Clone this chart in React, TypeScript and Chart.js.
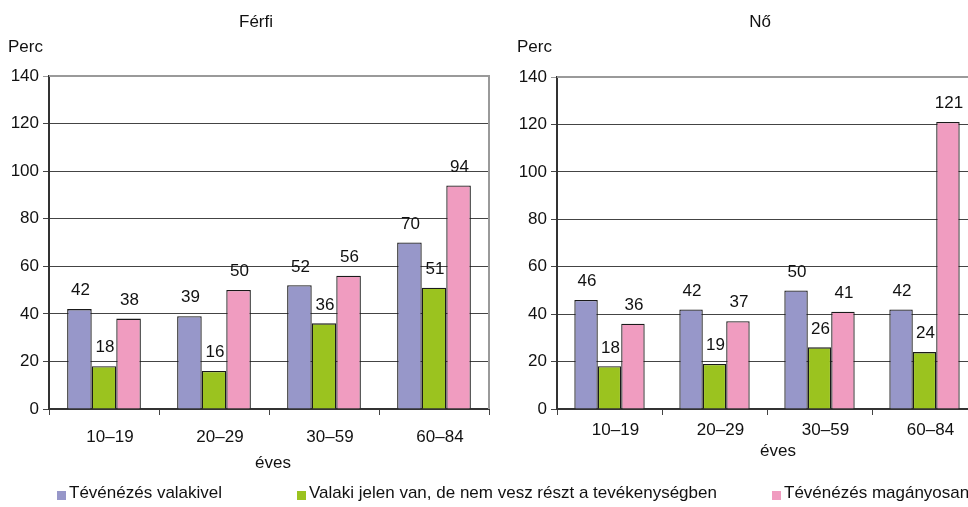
import React, { useEffect, useRef } from "react";
import { Chart, registerables } from "chart.js";

Chart.register(...registerables);

const categories = ["10–19", "20–29", "30–59", "60–84"];
const seriesNames = [
  "Tévénézés valakivel",
  "Valaki jelen van, de nem vesz részt a tevékenységben",
  "Tévénézés magányosan",
];
const seriesColors = ["#9797C9", "#9BC31F", "#F09CC0"];

const ferfiValakivel = [42, 39, 52, 70];
const ferfiJelen = [18, 16, 36, 51];
const ferfiMaganyosan = [38, 50, 56, 94];

const noValakivel = [46, 42, 50, 42];
const noJelen = [18, 19, 26, 24];
const noMaganyosan = [36, 37, 41, 121];

const yTicks = [0, 20, 40, 60, 80, 100, 120, 140];

const FONT = "'Liberation Sans', Arial, sans-serif";
const FS = 17;

const valueLabels = {
  id: "valueLabels",
  afterDatasetsDraw(chart: any) {
    const ctx = chart.ctx;
    ctx.save();
    ctx.font = `${FS}px ${FONT}`;
    ctx.fillStyle = "#111";
    ctx.textAlign = "center";
    ctx.textBaseline = "bottom";
    chart.data.datasets.forEach((ds: any, i: number) => {
      const meta = chart.getDatasetMeta(i);
      meta.data.forEach((bar: any, j: number) => {
        ctx.fillText(String(ds.data[j]), bar.x + 1, bar.y - 10);
      });
    });
    ctx.restore();
  },
};

const frame = {
  id: "frame",
  afterDatasetsDraw(chart: any) {
    const { ctx, chartArea } = chart;
    ctx.save();
    ctx.strokeStyle = "#9a9a9a";
    ctx.lineWidth = 2;
    ctx.beginPath();
    ctx.moveTo(chartArea.left, chartArea.top);
    ctx.lineTo(chartArea.right, chartArea.top);
    ctx.lineTo(chartArea.right, chartArea.bottom);
    ctx.stroke();
    ctx.restore();
  },
};

type PanelProps = {
  data: number[][];
  left: number;
  width: number;
  yAxisWidth: number;
  padTop: number;
  padRight: number;
  xAxisHeight: number;
  labelOffset: number;
  tickPadX: number;
};

function Panel(p: PanelProps) {
  const ref = useRef<HTMLCanvasElement>(null);
  useEffect(() => {
    if (!ref.current) return;
    const chart = new Chart(ref.current, {
      type: "bar",
      data: {
        labels: categories,
        datasets: p.data.map((d, i) => ({
          label: seriesNames[i],
          data: d,
          backgroundColor: seriesColors[i],
          borderColor: "#1a1a1a",
          borderWidth: 1.3,
          borderSkipped: "bottom",
          categoryPercentage: 0.67,
          barPercentage: 1.0,
        })),
      },
      options: {
        animation: false,
        responsive: false,
        maintainAspectRatio: false,
        layout: { padding: { top: p.padTop, right: p.padRight, left: 0, bottom: 0 } },
        plugins: { legend: { display: false }, tooltip: { enabled: false }, title: { display: false } },
        scales: {
          x: {
            grid: {
              display: true,
              drawOnChartArea: false,
              drawTicks: true,
              tickLength: 6,
              color: "#444",
              offset: true,
            },
            border: { display: true, color: "#333", width: 2 },
            ticks: {
              color: "#111",
              font: { family: FONT, size: FS },
              padding: p.tickPadX,
              labelOffset: p.labelOffset,
              maxRotation: 0,
              autoSkip: false,
            },
            afterFit: (s: any) => {
              s.height = p.xAxisHeight;
            },
          },
          y: {
            min: 0,
            max: 140,
            afterBuildTicks: (s: any) => {
              s.ticks = yTicks.map((v) => ({ value: v }));
            },
            grid: {
              color: (c: any) => (c.tick && c.tick.value === 140 ? "#9a9a9a" : "#444"),
              lineWidth: 1,
              tickLength: 6,
            },
            border: { display: true, color: "#333", width: 2 },
            ticks: {
              color: "#111",
              font: { family: FONT, size: FS },
              padding: 4,
            },
            afterFit: (s: any) => {
              s.width = p.yAxisWidth;
            },
          },
        },
      },
      plugins: [frame, valueLabels],
    });
    return () => chart.destroy();
  }, []);
  return (
    <canvas
      ref={ref}
      width={p.width}
      height={507}
      style={{ position: "absolute", left: p.left, top: 0, width: p.width, height: 507 }}
    />
  );
}

const txt = (s: string, x: number, y: number, center = false): React.ReactElement => (
  <div
    key={s + x}
    style={{
      position: "absolute",
      left: x,
      top: y,
      transform: center ? "translateX(-50%)" : undefined,
      fontFamily: FONT,
      fontSize: FS,
      color: "#111",
      whiteSpace: "nowrap",
      lineHeight: "20px",
    }}
  >
    {s}
  </div>
);

export default function App() {
  useEffect(() => {
    document.body.style.margin = "0";
  }, []);
  return (
    <div style={{ position: "relative", width: 968, height: 507, overflow: "hidden", background: "#fff" }}>
      <Panel
        data={[ferfiValakivel, ferfiJelen, ferfiMaganyosan]}
        left={0}
        width={492}
        yAxisWidth={49}
        padTop={76}
        padRight={3}
        xAxisHeight={98}
        labelOffset={6}
        tickPadX={12}
      />
      <Panel
        data={[noValakivel, noJelen, noMaganyosan]}
        left={490}
        width={490}
        yAxisWidth={67}
        padTop={77}
        padRight={3}
        xAxisHeight={98}
        labelOffset={6}
        tickPadX={5}
      />
      {txt("Férfi", 256, 12, true)}
      {txt("Nő", 760, 12, true)}
      {txt("Perc", 8, 37)}
      {txt("Perc", 517, 37)}
      {txt("éves", 273, 453, true)}
      {txt("éves", 778, 441, true)}
      {seriesNames.map((n, i) => {
        const xs = [57, 297, 772];
        return (
          <div
            key={n}
            style={{
              position: "absolute",
              left: xs[i],
              top: 483,
              fontFamily: FONT,
              fontSize: FS,
              color: "#111",
              whiteSpace: "nowrap",
              lineHeight: "20px",
              display: "flex",
              alignItems: "center",
            }}
          >
            <span
              style={{
                display: "inline-block",
                width: 9,
                height: 9,
                background: seriesColors[i],
                marginRight: 3,
                marginTop: 4,
              }}
            />
            {n}
          </div>
        );
      })}
    </div>
  );
}
